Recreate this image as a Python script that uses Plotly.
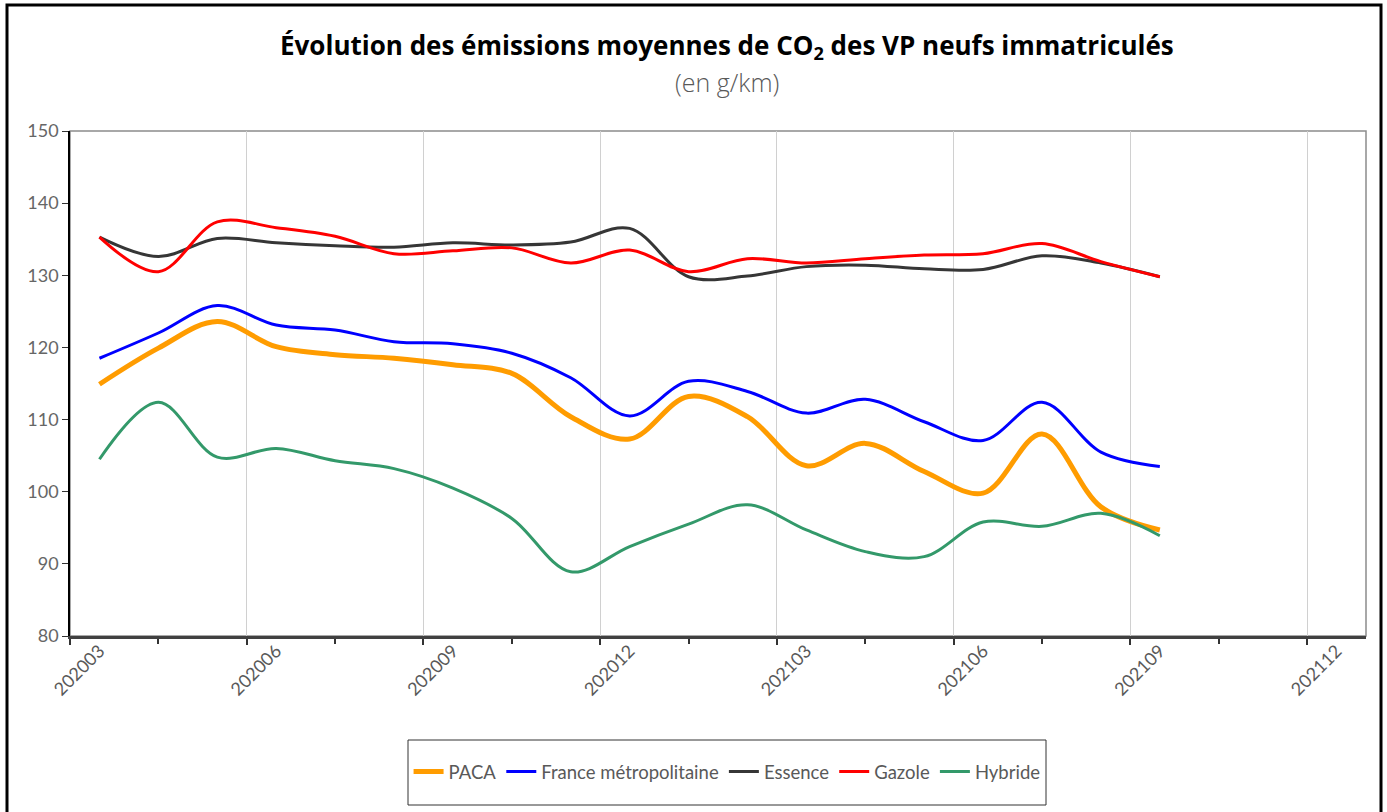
import plotly.graph_objects as go

months = ["202003", "202004", "202005", "202006", "202007", "202008", "202009", "202010",
          "202011", "202012", "202101", "202102", "202103", "202104", "202105", "202106",
          "202107", "202108", "202109"]
axis_labels = ["202003", "202006", "202009", "202012", "202103", "202106", "202109", "202112"]

paca = [114.9, 119.9, 123.6, 120.1, 119.0, 118.5, 117.6, 116.4, 110.4, 107.3, 113.2, 110.4,
        103.6, 106.7, 102.8, 99.8, 108.0, 97.9, 94.7]
france = [118.5, 122.0, 125.8, 123.1, 122.4, 120.8, 120.5, 119.2, 115.8, 110.5, 115.3, 113.9,
          110.9, 112.8, 109.7, 107.1, 112.4, 105.5, 103.5]
essence = [135.3, 132.6, 135.1, 134.5, 134.1, 133.9, 134.5, 134.2, 134.6, 136.5, 129.8, 129.9,
           131.2, 131.4, 130.9, 130.8, 132.7, 131.7, 129.8]
gazole = [135.3, 130.5, 137.4, 136.6, 135.4, 133.0, 133.4, 133.8, 131.7, 133.5, 130.5, 132.3,
          131.7, 132.3, 132.8, 133.0, 134.4, 131.9, 129.8]
hybride = [104.5, 112.4, 104.8, 106.0, 104.3, 103.2, 100.5, 96.3, 88.9, 92.4, 95.5, 98.2,
           94.7, 91.7, 91.0, 95.8, 95.2, 97.0, 93.9]

series = [
    ("PACA", paca, "#FF9C00", 5),
    ("France métropolitaine", france, "#0000FF", 3),
    ("Essence", essence, "#363636", 3),
    ("Gazole", gazole, "#FF0000", 3),
    ("Hybride", hybride, "#33996A", 3),
]

xi = list(range(len(months)))
label_pos = [i * 3 for i in range(len(axis_labels))]

fig = go.Figure()
for name, vals, color, w in series:
    fig.add_trace(go.Scatter(
        x=xi, y=vals, name=name, mode="lines",
        line=dict(color=color, width=w, shape="spline", smoothing=1.0),
        customdata=months, hovertemplate="%{customdata}: %{y}<extra>" + name + "</extra>",
    ))

# helper to convert pixel coords to paper coords
L, R, T, B = 70, 1366, 131, 636
def px(x):
    return (x - L) / (R - L)
def py(y):
    return (B - y) / (B - T)

fig.update_layout(
    width=1387, height=812,
    margin=dict(l=L, r=1387 - R, t=T, b=812 - B),
    paper_bgcolor="white", plot_bgcolor="white",
    font=dict(family="Open Sans, Lato, sans-serif", color="#595959"),
    showlegend=True,
    legend=dict(orientation="h", x=0.507, xanchor="center", y=py(772), yanchor="middle",
                font=dict(family="Lato, sans-serif", size=18.5, color="#595959"),
                bgcolor="rgba(0,0,0,0)", itemwidth=30, tracegroupgap=0),
    xaxis=dict(
        range=[-0.5, 21.5], tickmode="linear", tick0=-0.5, dtick=3,
        showgrid=True, gridcolor="#D0D0D0", gridwidth=1,
        ticks="outside", ticklen=6, tickcolor="#333333", tickwidth=1.5,
        showticklabels=False, showline=True, linecolor="#404040", linewidth=2.5,
        zeroline=False,
        minor=dict(ticks="outside", tick0=-0.5, dtick=1.5, ticklen=5, tickcolor="#333333",
                   tickwidth=1.5, showgrid=False),
    ),
    xaxis2=dict(
        range=[-0.5, 21.5], overlaying="x", anchor="y", side="bottom",
        tickmode="array", tickvals=label_pos, ticktext=axis_labels, tickangle=-45,
        showgrid=False, ticks="", showline=False, zeroline=False,
        tickfont=dict(family="Lato, sans-serif", size=18, color="#595959"),
    ),
    yaxis=dict(
        range=[80, 150], tickmode="linear", tick0=80, dtick=10,
        showgrid=False, zeroline=False, showline=True, linecolor="#000000", linewidth=1.5,
        ticks="outside", ticklen=6, tickcolor="#333333",
        tickfont=dict(family="Lato, sans-serif", size=18, color="#666666"),
    ),
)

# invisible trace to activate xaxis2
fig.add_trace(go.Scatter(x=[0], y=[80], xaxis="x2", mode="markers",
                         marker=dict(opacity=0), showlegend=False, hoverinfo="skip"))

shapes = [
    # plot area border (top/right)
    dict(type="rect", xref="paper", yref="paper", x0=0, y0=0, x1=1, y1=1,
         line=dict(color="#8C8C8C", width=1.5), layer="below"),
    # legend box
    dict(type="rect", xref="paper", yref="paper", x0=px(408), x1=px(1046), y0=py(805), y1=py(740),
         line=dict(color="#333333", width=1)),
    # outer frame
    dict(type="rect", xref="paper", yref="paper", x0=px(7), x1=px(1381), y0=py(830), y1=py(5),
         line=dict(color="#000000", width=3)),
]
fig.update_layout(shapes=shapes)

fig.add_annotation(
    text="<b>Évolution des émissions moyennes de CO<sub>2</sub> des VP neufs immatriculés</b>",
    xref="paper", yref="paper", x=px(727), y=py(46), xanchor="center", yanchor="middle",
    showarrow=False, font=dict(family="Open Sans, Lato, sans-serif", size=26, color="#000000"),
)
fig.add_annotation(
    text="(en g/km)", xref="paper", yref="paper", x=px(727), y=py(82),
    xanchor="center", yanchor="middle", showarrow=False,
    font=dict(family="Open Sans, Lato, sans-serif", size=25, color="#595959", weight=300),
)

fig.write_html("out.html", config={"displayModeBar": False},
               post_script="document.body.style.margin='0';document.body.style.overflow='hidden';")
